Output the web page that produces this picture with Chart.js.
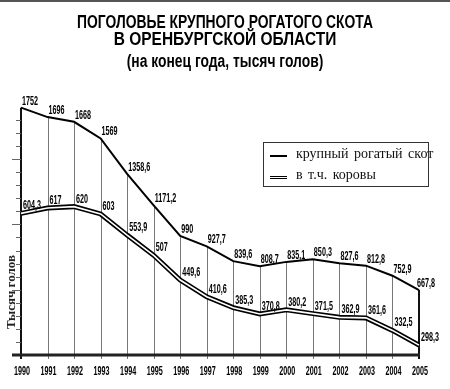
<!DOCTYPE html>
<html>
<head>
<meta charset="utf-8">
<script src="https://cdn.jsdelivr.net/npm/chart.js@4.4.1/dist/chart.umd.min.js"></script>
<style>
  html, body { margin: 0; padding: 0; background: #fff; }
  #wrap { position: relative; width: 450px; height: 389px; overflow: hidden; border-top: 2px solid #555; box-sizing: border-box; }
  #chart { position: absolute; left: 0; top: -2px; }
  #title { position: absolute; left: 0; top: 12px; width: 450px; text-align: center;
    font-family: 'Liberation Sans', sans-serif; font-weight: bold; color: #000; }
  #title div { transform-origin: 225px 50%; white-space: nowrap; }
  #title .l1 { font-size: 18px; line-height: 17px; transform: scaleX(0.77); }
  #title .l2 { font-size: 18px; line-height: 17px; transform: scaleX(0.86); }
  #title .l3 { font-size: 18px; line-height: 20px; margin-top: 3px; transform: scaleX(0.77); }
  #legend { position: absolute; left: 263px; top: 140px; width: 164px; height: 43px; border: 1px solid #333;
    font-family: 'Liberation Serif', 'Times New Roman', serif; font-size: 14px; color: #111; }
  #legend .row { position: absolute; left: 32px; white-space: nowrap; word-spacing: 2px; }
  #legend .sw1 { position: absolute; left: 6px; top: 12px; width: 17px; height: 2px; background: #000; }
  #legend .sw2 { position: absolute; left: 6px; top: 33px; width: 17px; height: 1px; border-top: 1.5px solid #000; border-bottom: 1.5px solid #000; }
  #ytitle { position: absolute; left: -26px; top: 282px; width: 74px; text-align: center; transform: rotate(-90deg);
    font-family: 'Liberation Serif', serif; font-weight: bold; font-size: 13px; color: #222; }
</style>
</head>
<body>
<div id="wrap">
  <canvas id="chart" width="450" height="389"></canvas>
  <div id="title">
    <div class="l1">ПОГОЛОВЬЕ КРУПНОГО РОГАТОГО СКОТА</div>
    <div class="l2">В ОРЕНБУРГСКОЙ ОБЛАСТИ</div>
    <div class="l3">(на конец года, тысяч голов)</div>
  </div>
  <div id="legend">
    <div class="sw1"></div><div class="row" style="top:3px">крупный рогатый скот</div>
    <div class="sw2"></div><div class="row" style="top:24px">в т.ч. коровы</div>
  </div>
  <div id="ytitle">Тысяч голов</div>
</div>
<script>
var years = ['1990','1991','1992','1993','1994','1995','1996','1997','1998','1999','2000','2001','2002','2003','2004','2005'];
var cattle = [1752, 1696, 1668, 1569, 1358.6, 1171.2, 990, 927.7, 839.6, 808.7, 835.1, 850.3, 827.6, 812.8, 752.9, 667.8];
var cows = [604.3, 617, 620, 603, 553.9, 507, 449.6, 410.6, 385.3, 370.8, 380.2, 371.5, 362.9, 361.6, 332.5, 298.3];

var labelFont = "bold 12px 'Liberation Sans', sans-serif";

function squeezeText(ctx, text, x, y, align) {
  ctx.save();
  ctx.translate(x, y);
  ctx.scale(0.6, 1);
  ctx.textAlign = align;
  ctx.fillText(text, 0, 0);
  ctx.restore();
}

var decorPlugin = {
  id: 'decor',
  beforeDatasetsDraw: function (chart) {
    var ctx = chart.ctx;
    var x = chart.scales.x, y = chart.scales.y;
    var base = chart.chartArea.bottom;
    ctx.save();
    // drop lines from baseline up to the cattle line
    for (var i = 0; i < years.length; i++) {
      var px = Math.round(x.getPixelForValue(i));
      var edge = (i === 0 || i === years.length - 1);
      ctx.strokeStyle = edge ? '#111' : '#777';
      ctx.lineWidth = edge ? 2 : 1;
      ctx.beginPath();
      ctx.moveTo(px + (edge ? 0 : 0.5), base + 4);
      ctx.lineTo(px + (edge ? 0 : 0.5), y.getPixelForValue(cattle[i]));
      ctx.stroke();
    }
    // small ticks on the left axis
    var left = Math.round(x.getPixelForValue(0));
    ctx.strokeStyle = '#666';
    ctx.lineWidth = 1;
    for (var k = 0; k <= 18; k++) {
      var ty = Math.round(base - k * 13.06) + 0.5;
      ctx.beginPath();
      ctx.moveTo(left - (k % 5 === 0 ? 9 : 5), ty);
      ctx.lineTo(left, ty);
      ctx.stroke();
    }
    ctx.restore();
  },
  afterDatasetsDraw: function (chart) {
    var ctx = chart.ctx;
    var x = chart.scales.x, y = chart.scales.y, y2 = chart.scales.y2;
    var base = chart.chartArea.bottom;
    ctx.save();
    // baseline
    ctx.strokeStyle = '#222';
    ctx.lineWidth = 3;
    ctx.beginPath();
    ctx.moveTo(12, base);
    ctx.lineTo(x.getPixelForValue(years.length - 1) + 1, base);
    ctx.stroke();

    ctx.fillStyle = '#000';
    ctx.font = labelFont;
    ctx.textBaseline = 'alphabetic';
    for (var i = 0; i < years.length; i++) {
      var px = x.getPixelForValue(i);
      var shift = (i === years.length - 1) ? -2 : 1;
      squeezeText(ctx, String(cattle[i]).replace('.', ','), px + shift, y.getPixelForValue(cattle[i]) - 3, 'left');
      squeezeText(ctx, String(cows[i]).replace('.', ','), px + 2, y2.getPixelForValue(cows[i]) - 4, 'left');
      squeezeText(ctx, years[i], px + 1, base + 20, 'center');
    }
    ctx.restore();
  }
};

// datasets drawn last-to-first, so the white core of the cows line comes before its black outline
new Chart(document.getElementById('chart'), {
  type: 'line',
  data: {
    labels: years,
    datasets: [
      { data: cattle, yAxisID: 'y', borderColor: '#000', borderWidth: 2, pointRadius: 0, tension: 0 },
      { data: cows, yAxisID: 'y2', borderColor: '#fff', borderWidth: 1.6, pointRadius: 0, tension: 0 },
      { data: cows, yAxisID: 'y2', borderColor: '#000', borderWidth: 5, pointRadius: 0, tension: 0 }
    ]
  },
  options: {
    responsive: false,
    animation: false,
    layout: { padding: { left: 21, right: 31, top: 100, bottom: 34 } },
    plugins: { legend: { display: false }, tooltip: { enabled: false } },
    scales: {
      x: { type: 'category', display: false, offset: false },
      y: { display: false, min: 281.5, max: 1797.5 },
      y2: { display: false, min: 275.4, max: 867.7 }
    }
  },
  plugins: [decorPlugin]
});
</script>
</body>
</html>
